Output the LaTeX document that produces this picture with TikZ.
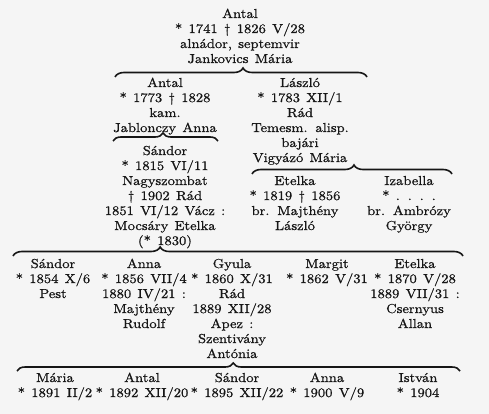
\documentclass[tikz,border=0pt]{standalone}
\usepackage{fontspec}
\setmainfont{lmroman10-regular.otf}[FakeStretch=1.12,FakeBold=0.8,WordSpace=1.3]
\usetikzlibrary{decorations.pathreplacing}
\definecolor{bg}{RGB}{245,245,245}
\definecolor{ink}{RGB}{22,22,22}
\newcommand\genfont{\fontsize{13}{15}\selectfont}
\begin{document}
\begin{tikzpicture}[x=1pt,y=-1pt,
  every node/.style={inner sep=0pt,outer sep=0pt},
  person/.style={anchor=north,align=center,font=\genfont,text=ink},
  brc/.style n args={2}{draw=ink,line width=1.6pt,decorate,
    decoration={brace,amplitude=#1,aspect=#2}}]
\fill[bg] (0,0) rectangle (489,414);
\useasboundingbox (0,0) rectangle (489,414);
% generation 1
\node[person] (top) at (240,7.5) {\strut Antal\\* 1741 † 1826 V/28\\alnádor, septemvir\\Jankovics Mária};
\coordinate (b1l) at (115,77);
\coordinate (b1r) at (367,77);
\draw[brc={9pt}{0.508}] (b1l) -- (b1r);
% generation 2
\node[person] (antal) at (165,76.5) {\strut Antal\\* 1773 † 1828\\kam.\\Jablonczy Anna};
\node[person] (laszlo) at (300,76.5) {\strut László\\* 1783 XII/1\\Rád\\Temesm. alisp.\\bajári\\Vigyázó Mária};
\coordinate (b2l) at (113,141);
\coordinate (b2r) at (218,141);
\draw[brc={8pt}{0.476}] (b2l) -- (b2r);
\node[person] (sandor) at (165,144.5) {\strut Sándor\\* 1815 VI/11\\Nagyszombat\\† 1902 Rád\\1851 VI/12 Vácz :\\Mocsáry Etelka\\(* 1830)};
\coordinate (b3l) at (252,174);
\coordinate (b3r) at (452,174);
\draw[brc={9pt}{0.51}] (b3l) -- (b3r);
\node[person] (etelka1) at (295,174.5) {\strut Etelka\\* 1819 † 1856\\br. Majthény\\László};
\node[person] (izabella) at (409,174.5) {\strut Izabella\\* . . . .\\br. Ambrózy\\György};
% generation 3
\coordinate (b4l) at (13,256);
\coordinate (b4r) at (463,256);
\draw[brc={9pt}{0.327}] (b4l) -- (b4r);
\node[person] (sandor2) at (53,257.5) {\strut Sándor\\* 1854 X/6\\Pest};
\node[person] (anna1) at (144,257.5) {\strut Anna\\* 1856 VII/4\\1880 IV/21 :\\Majthény\\Rudolf};
\node[person] (gyula) at (232,257.5) {\strut Gyula\\* 1860 X/31\\Rád\\1889 XII/28\\Apez :\\Szentivány\\Antónia};
\node[person] (margit) at (327,257.5) {\strut Margit\\* 1862 V/31};
\node[person] (etelka2) at (415,257.5) {\strut Etelka\\* 1870 V/28\\1889 VII/31 :\\Csernyus\\Allan};
% generation 4
\coordinate (b5l) at (17,371);
\coordinate (b5r) at (460,371);
\draw[brc={8pt}{0.488}] (b5l) -- (b5r);
\node[person] (maria) at (55,371.5) {\strut Mária\\* 1891 II/2};
\node[person] (antal2) at (142,371.5) {\strut Antal\\* 1892 XII/20};
\node[person] (sandor3) at (237,371.5) {\strut Sándor\\* 1895 XII/22};
\node[person] (anna2) at (327,371.5) {\strut Anna\\* 1900 V/9};
\node[person] (istvan) at (418,371.5) {\strut István\\* 1904};
\end{tikzpicture}
\end{document}
